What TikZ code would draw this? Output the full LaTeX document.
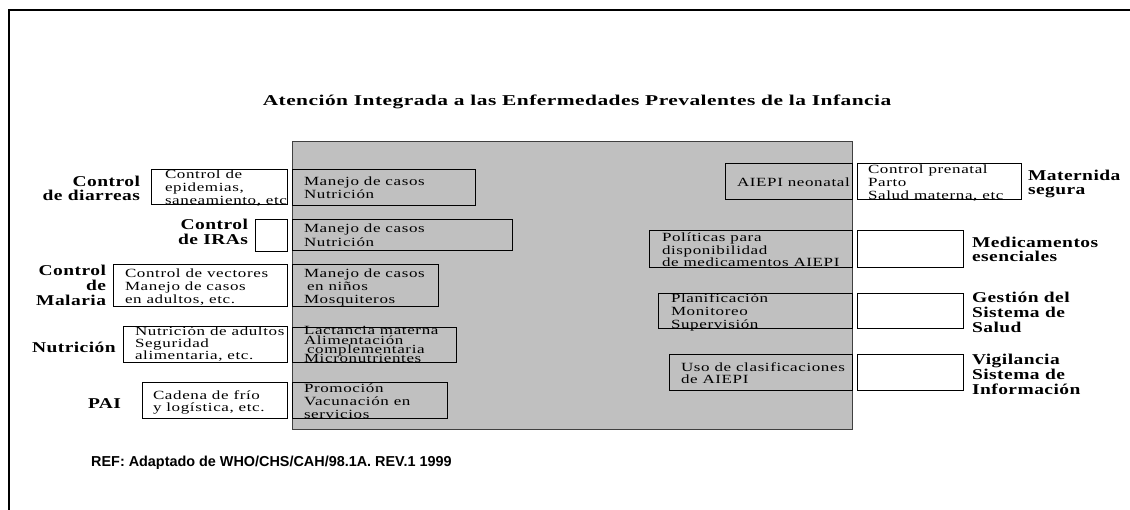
\documentclass[tikz,border=0pt]{standalone}
\usepackage{fontspec}
\setmainfont{Liberation Serif}
\newfontfamily\smf[FakeStretch=1.36,LetterSpace=5]{Liberation Serif}
\newfontfamily\lbf[FakeStretch=1.3,LetterSpace=3]{Liberation Serif}
\newfontfamily\ttlf[FakeStretch=1.43,LetterSpace=3]{Liberation Serif}
\newfontfamily\reff{Liberation Sans}
\newcommand\mlL[2]{\vtop{\baselineskip=#1pt\lineskiplimit=-\maxdimen\lineskip=0pt\halign{##\hfil\cr #2\crcr}}}
\newcommand\mlR[2]{\vtop{\baselineskip=#1pt\lineskiplimit=-\maxdimen\lineskip=0pt\halign{\hfil##\cr #2\crcr}}}
\newcommand\bx[5]{\node[bxs, minimum width={(#4-#2)*1pt}, minimum height={(#5-#3)*1pt}, anchor=north west] (#1) at (#2,#3) {};}
\tikzset{
  bxs/.style={draw=black, line width=0.8pt, inner sep=0pt, outer sep=0pt},
  sm/.style={inner sep=0pt, outer sep=0pt, font=\smf\fontsize{12.5}{13}\selectfont, anchor=base west},
  lbw/.style={inner sep=0pt, outer sep=0pt, font=\lbf\bfseries\fontsize{15}{15}\selectfont, anchor=base west},
  lbe/.style={inner sep=0pt, outer sep=0pt, font=\lbf\bfseries\fontsize{15}{15}\selectfont, anchor=base east},
  ttl/.style={inner sep=0pt, font=\ttlf\bfseries\fontsize{15}{15}\selectfont, anchor=base},
  reft/.style={inner sep=0pt, font=\reff\bfseries\fontsize{14.4}{15}\selectfont, anchor=base west},
}
\begin{document}
\begin{tikzpicture}[x=1pt,y=-1pt]
\useasboundingbox (0,0) rectangle (1130,510);
\fill[white] (0,0) rectangle (1130,510);
% outer frame
\draw[line width=2pt] (9,512) -- (9,10) -- (1132,10);
% grey panel
\node[fill={rgb,255:red,192;green,192;blue,192}, draw=black!75, line width=1pt, inner sep=0pt, minimum width=560pt, minimum height=288pt, anchor=north west] (panel) at (292,141) {};
% title
\node[ttl] (title) at (577,106) {Atención Integrada a las Enfermedades Prevalentes de la Infancia};
% left labels
\node[lbe] (ld) at (140,187) {\mlR{14}{Control\cr de diarreas}};
\node[lbe] (li) at (248,230) {\mlR{15}{Control\cr de IRAs}};
\node[lbe] (lm) at (106,276) {\mlR{15}{Control\cr de\cr Malaria}};
\node[lbw] (ln) at (32,353) {Nutrición};
\node[lbw] (lp) at (88,409) {PAI};
% left boxes
\bx{bd}{151}{169}{287}{204}
\node[sm] (td) at (165,179) {\mlL{13}{Control de\cr epidemias,\cr saneamiento, etc}};
\bx{bi}{255}{219}{287}{251}
\bx{bm}{113}{264}{287}{306}
\node[sm] (tm) at (125,278) {\mlL{13}{Control de vectores\cr Manejo de casos\cr en adultos, etc.}};
\bx{bn}{123}{326}{287}{362}
\node[sm] (tn) at (135,336) {\mlL{12}{Nutrición de adultos\cr Seguridad\cr alimentaria, etc.}};
\bx{bp}{142}{382}{287}{418}
\node[sm] (tp) at (153,400) {\mlL{12}{Cadena de frío\cr y logística, etc.}};
% middle boxes
\bx{m1}{292}{169}{475}{205}
\node[sm] (tm1) at (304,186) {\mlL{13}{Manejo de casos\cr Nutrición}};
\bx{m2}{292}{219}{512}{250}
\node[sm] (tm2) at (304,233) {\mlL{14}{Manejo de casos\cr Nutrición}};
\bx{m3}{292}{264}{438}{306}
\node[sm] (tm3) at (304,278) {\mlL{13}{Manejo de casos\cr\kern3pt en niños\cr Mosquiteros}};
\bx{m4}{292}{327}{456}{362}
\node[sm] (tm4) at (304,335) {\mlL{9.3}{Lactancia materna\cr Alimentación\cr\kern3pt complementaria\cr Micronutrientes}};
\bx{m5}{292}{382}{447}{418}
\node[sm] (tm5) at (304,393) {\mlL{13}{Promoción\cr Vacunación en\cr servicios}};
% right grey boxes
\bx{r1}{725}{163}{852}{199}
\node[sm] (tr1) at (737,187) {AIEPI neonatal};
\bx{r2}{649}{230}{852}{267}
\node[sm] (tr2) at (662,242) {\mlL{12.5}{Políticas para\cr disponibilidad\cr de medicamentos AIEPI}};
\bx{r3}{658}{293}{852}{328}
\node[sm] (tr3) at (671,303) {\mlL{13}{Planificación\cr Monitoreo\cr Supervisión}};
\bx{r4}{669}{354}{852}{390}
\node[sm] (tr4) at (681,372) {\mlL{12}{Uso de clasificaciones\cr de AIEPI}};
% right white boxes
\bx{w1}{857}{163}{1021}{199}
\node[sm] (tw1) at (868,174) {\mlL{13}{Control prenatal\cr Parto\cr Salud materna, etc}};
\bx{w2}{857}{230}{963}{267}
\bx{w3}{857}{293}{963}{328}
\bx{w4}{857}{354}{963}{390}
% right labels
\node[lbw] (lr1) at (1028,181) {\mlL{14}{Maternida\cr segura}};
\node[lbw] (lr2) at (972,248) {\mlL{14}{Medicamentos\cr esenciales}};
\node[lbw] (lr3) at (972,303) {\mlL{15}{Gestión del\cr Sistema de\cr Salud}};
\node[lbw] (lr4) at (972,365) {\mlL{15}{Vigilancia\cr Sistema de\cr Información}};
% reference
\node[reft] (ref) at (91,466) {REF: Adaptado de WHO/CHS/CAH/98.1A. REV.1 1999};
\end{tikzpicture}
\end{document}
